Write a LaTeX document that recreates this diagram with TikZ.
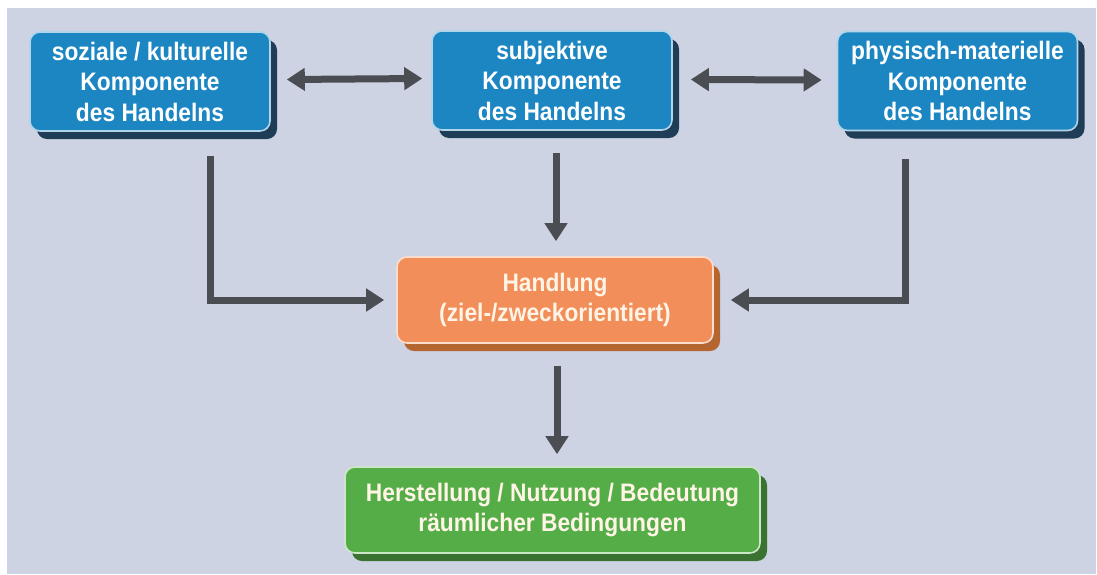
\documentclass[tikz,border=0pt]{standalone}
\usepackage{fontspec}
\setmainfont{Liberation Sans}[FakeStretch=0.9]
\usetikzlibrary{shadows,arrows.meta}
\definecolor{bg}{HTML}{CED3E3}
\definecolor{bluefill}{HTML}{1C86C2}
\definecolor{blueshadow}{HTML}{1F3D57}
\definecolor{orangefill}{HTML}{F28E5A}
\definecolor{orangeshadow}{HTML}{B5652F}
\definecolor{greenfill}{HTML}{55AD48}
\definecolor{greenshadow}{HTML}{3A7331}
\definecolor{arrgrey}{HTML}{4A4D52}
\definecolor{cream}{HTML}{FFF4E6}
\tikzset{
  boxbase/.style={rounded corners=10pt, line width=1.6pt, inner sep=0pt, align=center,
    font=\bfseries\fontsize{25.3}{30.5}\selectfont, text=white},
  bluebox/.style={boxbase, fill=bluefill, draw=bluefill!35!white,
    general shadow={shadow xshift=7pt, shadow yshift=-8pt, fill=blueshadow},
    minimum width=240pt, minimum height=99pt},
  orangebox/.style={boxbase, fill=orangefill, draw=orangefill!30!white, text=cream,
    general shadow={shadow xshift=7pt, shadow yshift=-8pt, fill=orangeshadow},
    minimum width=316pt, minimum height=86pt},
  greenbox/.style={boxbase, fill=greenfill, draw=greenfill!30!white, text=cream,
    general shadow={shadow xshift=7pt, shadow yshift=-8pt, fill=greenshadow},
    minimum width=415pt, minimum height=86pt},
  arr/.style={line width=7pt, draw=arrgrey, -{Triangle[width=22pt,length=18pt]}},
  darr/.style={line width=7pt, draw=arrgrey, {Triangle[width=22pt,length=18pt]}-{Triangle[width=22pt,length=18pt]}}
}
\begin{document}
\begin{tikzpicture}[x=1pt,y=-1pt]
\useasboundingbox (0,0) rectangle (1097,574);
\fill[white] (0,0) rectangle (1097,574);
\fill[bg] (7,8) rectangle (1096,574);

\node[bluebox] (b1) at (150,81.5) {soziale / kulturelle\\Komponente\\des Handelns};
\node[bluebox] (b2) at (552,80.5) {subjektive\\Komponente\\des Handelns};
\node[bluebox] (b3) at (957.5,81) {physisch-materielle\\Komponente\\des Handelns};
\node[orangebox] (hand) at (555,300) {Handlung\\(ziel-/zweckorientiert)};
\node[greenbox] (res) at (552.5,510) {Herstellung / Nutzung / Bedeutung\\räumlicher Bedingungen};

\draw[darr] ([xshift=16pt,yshift=2pt]b1.east) -- ([xshift=-9pt,yshift=2pt]b2.west);
\draw[darr] ([xshift=18pt,yshift=1pt]b2.east) -- ([xshift=-15pt,yshift=1pt]b3.west);
\draw[arr] ([xshift=4pt,yshift=-22pt]b2.south) -- ([xshift=4pt,yshift=15pt]b2.south |- hand.north);
\draw[arr] ([xshift=60pt,yshift=-24pt]b1.south) |- ([xshift=-12pt]hand.west);
\draw[arr] ([xshift=-52pt,yshift=-28pt]b3.south) |- ([xshift=17pt]hand.east);
\draw[arr] ([xshift=2pt,yshift=-22pt]hand.south) -- ([xshift=4.5pt,yshift=12pt]res.north);
\end{tikzpicture}
\end{document}
